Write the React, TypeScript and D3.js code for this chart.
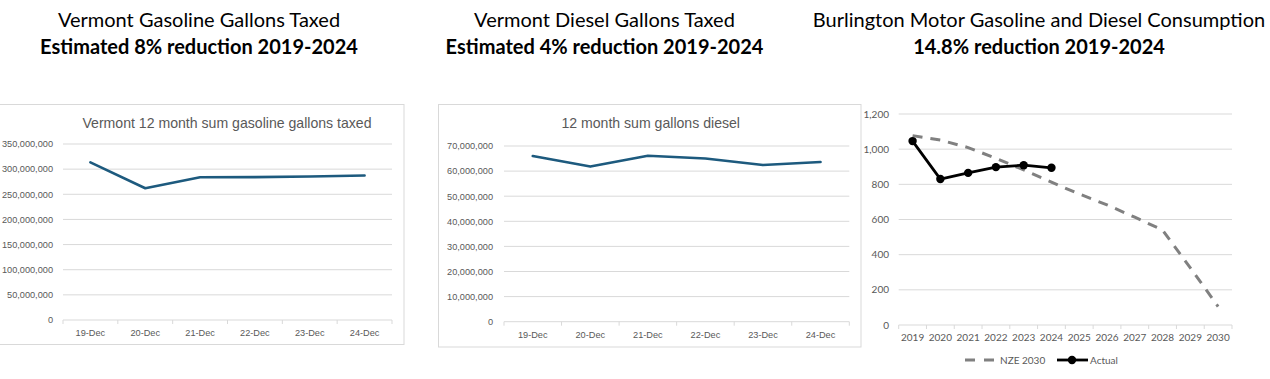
import React from "react";
import * as d3 from "d3";

const decCats = ["19-Dec", "20-Dec", "21-Dec", "22-Dec", "23-Dec", "24-Dec"];
const gasolineGallons = [313600000, 262000000, 284000000, 284200000, 285500000, 287500000];
const gasolineTicks = [0, 50000000, 100000000, 150000000, 200000000, 250000000, 300000000, 350000000];
const dieselGallons = [66000000, 61800000, 66100000, 65000000, 62400000, 63600000];
const dieselTicks = [0, 10000000, 20000000, 30000000, 40000000, 50000000, 60000000, 70000000];
const years = ["2019", "2020", "2021", "2022", "2023", "2024", "2025", "2026", "2027", "2028", "2029", "2030"];
const nze2030 = [1077, 1052, 1009, 948, 882, 812, 745, 683, 613, 540, 325, 105];
const actualYears = ["2019", "2020", "2021", "2022", "2023", "2024"];
const actual = [1046, 830, 865, 898, 909, 894];
const burlTicks = [0, 200, 400, 600, 800, 1000, 1200];

const GRID = "#d9d9d9";
const LABEL = "#595959";
const LINE = "#1d5a7e";
const fmt = d3.format(",");

function ExcelPanel(props: {
  box: [number, number, number, number];
  xr: [number, number];
  yr: [number, number];
  max: number;
  ticks: number[];
  values: number[];
  title: string;
  titleX: number;
  labelX: number;
}) {
  const { box, xr, yr, max, ticks, values, title, titleX, labelX } = props;
  const x = d3.scaleBand<string>().domain(decCats).range(xr);
  const y = d3.scaleLinear().domain([0, max]).range(yr);
  const line = d3
    .line<number>()
    .x((_, i) => (x(decCats[i]) as number) + x.bandwidth() / 2)
    .y((d) => y(d));
  const bounds = [...decCats.map((c) => x(c) as number), xr[1]];
  return (
    <g>
      <rect x={box[0]} y={box[1]} width={box[2]} height={box[3]} fill="#fff" stroke={GRID} strokeWidth={1} />
      <text x={titleX} y={127.8} textAnchor="middle" fontFamily="Liberation Sans, Arial, sans-serif" fontSize={14.1} fill={LABEL}>
        {title}
      </text>
      {ticks.map((t) => (
        <g key={t}>
          {t > 0 && <line x1={xr[0]} x2={xr[1]} y1={y(t)} y2={y(t)} stroke={GRID} strokeWidth={1} />}
          <text x={labelX} y={y(t) + 3.3} textAnchor="end" fontFamily="Liberation Sans, Arial, sans-serif" fontSize={9.2} fill={LABEL}>
            {fmt(t)}
          </text>
        </g>
      ))}
      <line x1={xr[0]} x2={xr[1]} y1={y(0)} y2={y(0)} stroke={GRID} strokeWidth={1} />
      {bounds.map((b, i) => (
        <line key={i} x1={b} x2={b} y1={y(0)} y2={y(0) + 4} stroke={GRID} strokeWidth={1} />
      ))}
      {decCats.map((c) => (
        <text key={c} x={(x(c) as number) + x.bandwidth() / 2} y={y(0) + 16} textAnchor="middle" fontFamily="Liberation Sans, Arial, sans-serif" fontSize={9.2} fill={LABEL}>
          {c}
        </text>
      ))}
      <path d={line(values) as string} fill="none" stroke={LINE} strokeWidth={2.6} strokeLinejoin="round" strokeLinecap="round" />
    </g>
  );
}

function BurlPanel() {
  const x = d3.scaleBand<string>().domain(years).range([898.7, 1232]);
  const y = d3.scaleLinear().domain([0, 1200]).range([325, 114]);
  const cx = (c: string) => (x(c) as number) + x.bandwidth() / 2;
  const nzeLine = d3.line<number>().x((_, i) => cx(years[i])).y((d) => y(d));
  const actLine = d3.line<number>().x((_, i) => cx(actualYears[i])).y((d) => y(d));
  const bounds = [...years.map((c) => x(c) as number), 1232];
  const font = "Lato, sans-serif";
  return (
    <g>
      {burlTicks.map((t) => (
        <g key={t}>
          {t > 0 && <line x1={898.7} x2={1232} y1={y(t)} y2={y(t)} stroke={GRID} strokeWidth={1} />}
          <text x={889} y={y(t) + 3.5} textAnchor="end" fontFamily={font} fontSize={10} fill={LABEL}>
            {fmt(t)}
          </text>
        </g>
      ))}
      <line x1={898.7} x2={1232} y1={y(0)} y2={y(0)} stroke={GRID} strokeWidth={1} />
      {bounds.map((b, i) => (
        <line key={i} x1={b} x2={b} y1={y(0)} y2={y(0) + 4} stroke={GRID} strokeWidth={1} />
      ))}
      {years.map((c) => (
        <text key={c} x={cx(c)} y={341} textAnchor="middle" fontFamily={font} fontSize={10} fill={LABEL}>
          {c}
        </text>
      ))}
      <path d={nzeLine(nze2030) as string} fill="none" stroke="#808080" strokeWidth={3} strokeDasharray="10,8" />
      <path d={actLine(actual) as string} fill="none" stroke="#000" strokeWidth={2.8} strokeLinejoin="round" />
      {actual.map((v, i) => (
        <circle key={i} cx={cx(actualYears[i])} cy={y(v)} r={4.2} fill="#000" />
      ))}
      <line x1={965} x2={995} y1={360} y2={360} stroke="#808080" strokeWidth={3} strokeDasharray="10,9" />
      <text x={1000} y={363.5} fontFamily={font} fontSize={10} fill={LABEL}>NZE 2030</text>
      <line x1={1057} x2={1088} y1={360} y2={360} stroke="#000" strokeWidth={2.8} />
      <circle cx={1072} cy={360} r={4.2} fill="#000" />
      <text x={1090} y={363.5} fontFamily={font} fontSize={10} fill={LABEL}>Actual</text>
    </g>
  );
}

function Heading(props: { cx: number; line1: string; line2: string }) {
  const font = "Lato, sans-serif";
  return (
    <g fontFamily={font} fill="#000" textAnchor="middle">
      <text x={props.cx} y={27} fontSize={20}>{props.line1}</text>
      <text x={props.cx} y={54} fontSize={20} fontWeight="bold">{props.line2}</text>
    </g>
  );
}

export default function App() {
  return (
    <svg width={1270} height={379} style={{ position: "absolute", left: 0, top: 0, background: "#fff" }}>
      <rect x={0} y={0} width={1270} height={379} fill="#fff" />
      <Heading cx={199} line1="Vermont Gasoline Gallons Taxed" line2="Estimated 8% reduction 2019-2024" />
      <Heading cx={604.5} line1="Vermont Diesel Gallons Taxed" line2="Estimated 4% reduction 2019-2024" />
      <Heading cx={1039} line1="Burlington Motor Gasoline and Diesel Consumption" line2="14.8% reduction 2019-2024" />
      <ExcelPanel
        box={[-0.5, 104.5, 404.5, 240]}
        xr={[63, 392]}
        yr={[320, 144]}
        max={350000000}
        ticks={gasolineTicks}
        values={gasolineGallons}
        title="Vermont 12 month sum gasoline gallons taxed"
        titleX={227}
        labelX={53}
      />
      <ExcelPanel
        box={[438.5, 104.5, 422.5, 242.5]}
        xr={[504, 849.3]}
        yr={[321.7, 146]}
        max={70000000}
        ticks={dieselTicks}
        values={dieselGallons}
        title="12 month sum gallons diesel"
        titleX={650.7}
        labelX={493}
      />
      <BurlPanel />
    </svg>
  );
}
